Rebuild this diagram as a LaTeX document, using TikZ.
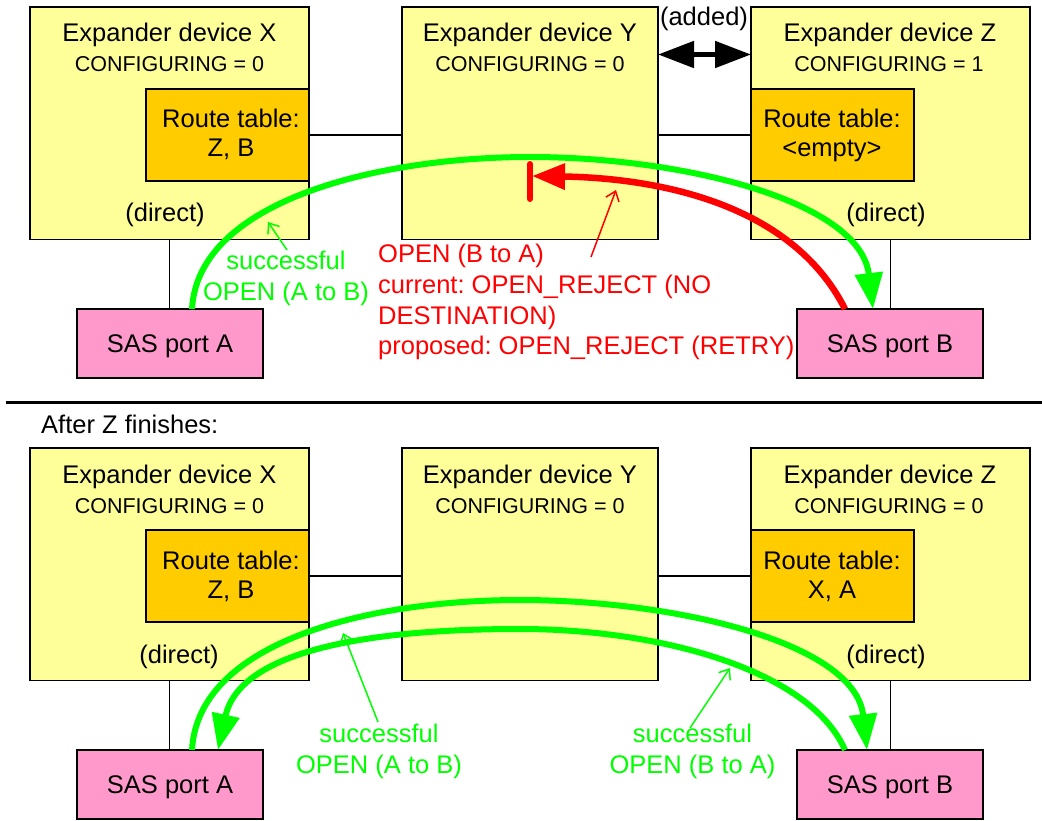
\documentclass[tikz,border=0pt]{standalone}
\usepackage{fontspec}
\setmainfont{Liberation Sans}
\usetikzlibrary{arrows.meta,calc}
\definecolor{boxyellow}{HTML}{FFFF99}
\definecolor{rtorange}{HTML}{FFCC00}
\definecolor{portpink}{HTML}{FF99CC}
\definecolor{brightgreen}{HTML}{00FF00}
\definecolor{brightred}{HTML}{FF0000}
\frenchspacing
\begin{document}
\begin{tikzpicture}[x=1pt,y=-1pt,
  expbox/.style={draw=black, line width=1.6pt, fill=boxyellow, minimum width=279pt, minimum height=232.5pt, inner sep=0pt, outer sep=0pt},
  ybox/.style={expbox, minimum width=256pt},
  rtbox/.style={draw=black, line width=1.6pt, fill=rtorange, minimum width=163pt, minimum height=92pt, inner sep=0pt, outer sep=0pt},
  port/.style={draw=black, line width=1.6pt, fill=portpink, minimum width=186pt, minimum height=69pt, inner sep=0pt, outer sep=0pt, font=\fontsize{25.5}{30}\selectfont, text height=18.4pt, text depth=0pt},
  txt/.style={inner sep=0pt, font=\fontsize{25.5}{30}\selectfont, anchor=base},
  cfg/.style={txt, font=\fontsize{21.5}{26}\selectfont},
  conn/.style={draw=black, line width=1.4pt},
  bigarrow/.style={line width=6pt, brightgreen, -{Triangle[length=36pt,width=27pt]}},
  thinarrow/.style={line width=1.5pt, -{Straight Barb[length=9pt,width=14pt]}},
]
\useasboundingbox (0,0) rectangle (1042,821);

% ---------------- top section ----------------
\node[expbox] (X) at (169.5,123.25) {};
\node[ybox] (Y) at (530,123.25) {};
\node[expbox] (Z) at (890.5,123.25) {};
\node[rtbox] (RTX) at (227.5,135) {};
\node[rtbox] (RTZ) at (832.5,135) {};
\node[port] (pA) at (170,343.5) {SAS port A};
\node[port] (pB) at (890,343.5) {SAS port B};

\node[txt] (tX) at (169.5,42) {Expander device X};
\node[cfg] (cX) at (169.5,72) {CONFIGURING = 0};
\node[txt] (tY) at (530,42) {Expander device Y};
\node[cfg] (cY) at (530,72) {CONFIGURING = 0};
\node[txt] (tZ) at (890,42) {Expander device Z};
\node[cfg] (cZ) at (889,72) {CONFIGURING = 1};
\node[txt] (rX1) at (231,128) {Route table:};
\node[txt] (rX2) at (231,157) {Z, B};
\node[txt] (rZ1) at (832,128) {Route table:};
\node[txt] (rZ2) at (832,157) {<empty>};
\node[txt] (dX) at (165,222) {(direct)};
\node[txt] (dZ) at (886,222) {(direct)};
\node[txt] (added) at (704,26) {(added)};

\draw[conn] (RTX.east) -- (RTX.east -| Y.west);
\draw[conn] (Y.east |- RTZ.west) -- (RTZ.west);
\draw[conn] (X.south) -- (X.south |- pA.north);
\draw[conn] (Z.south) -- (Z.south |- pB.north);

\coordinate (addy) at (704,54.5);
\draw[line width=5pt, {Triangle[length=36pt,width=26pt]}-{Triangle[length=36pt,width=26pt]}] (Y.east |- addy) -- (Z.west |- addy);

% green successful OPEN A to B
\coordinate (gA) at ($(pA.north)+(22,0)$);
\coordinate (gB) at ($(pB.north)+(-17,0)$);
\draw[bigarrow] (gA) .. controls (198,200) and (380,157) .. (530,157)
  .. controls (680,157) and (860,200) .. (gB);

% red rejected OPEN B to A
\coordinate (rB) at ($(pB.north)+(-45,0)$);
\coordinate (rEnd) at (532,176);
\draw[line width=6.5pt, brightred, -{Triangle[length=33pt,width=25pt]}] (rB) .. controls (790,200) and (650,178) .. (rEnd);
\coordinate (barT) at (530,164);
\coordinate (barB) at (530,199);
\draw[line width=6pt, brightred, line cap=round] (barT) -- (barB);

\node[txt, text=brightred, anchor=base west] (red1) at (378,263) {OPEN (B to A)};
\node[txt, text=brightred, anchor=base west] (red2) at (378,294) {current: OPEN\_REJECT (NO};
\node[txt, text=brightred, anchor=base west] (red3) at (378,324) {DESTINATION)};
\node[txt, text=brightred, anchor=base west] (red4) at (378,354) {proposed: OPEN\_REJECT (RETRY)};
\coordinate (redS) at (591,257);
\coordinate (redT) at (616,190);
\draw[thinarrow, brightred] (redS) -- (redT);

\node[txt, text=brightgreen] (g1) at (286,270) {successful};
\node[txt, text=brightgreen] (g2) at (286,301) {OPEN (A to B)};
\coordinate (gS) at (287,250);
\coordinate (gT) at (268,222);
\draw[thinarrow, brightgreen] (gS) -- (gT);

% ---------------- separator ----------------
\coordinate (sepL) at (6,402);
\coordinate (sepR) at (1042,402);
\draw[line width=3pt] (sepL) -- (sepR);
\node[txt, anchor=base west] (after) at (41,433) {After Z finishes:};

% ---------------- bottom section ----------------
\node[expbox] (X2) at (169.5,564.25) {};
\node[ybox] (Y2) at (530,564.25) {};
\node[expbox] (Z2) at (890.5,564.25) {};
\node[rtbox] (RTX2) at (227.5,576) {};
\node[rtbox] (RTZ2) at (832.5,576) {};
\node[port] (pA2) at (170,784.5) {SAS port A};
\node[port] (pB2) at (890,784.5) {SAS port B};

\node[txt] (tX2) at (169.5,483) {Expander device X};
\node[cfg] (cX2) at (169.5,513) {CONFIGURING = 0};
\node[txt] (tY2) at (530,483) {Expander device Y};
\node[cfg] (cY2) at (530,513) {CONFIGURING = 0};
\node[txt] (tZ2) at (890,483) {Expander device Z};
\node[cfg] (cZ2) at (889,513) {CONFIGURING = 0};
\node[txt] (rX21) at (231,569) {Route table:};
\node[txt] (rX22) at (231,598) {Z, B};
\node[txt] (rZ21) at (832,569) {Route table:};
\node[txt] (rZ22) at (832,598) {X, A};
\node[txt] (dX2) at (179,663) {(direct)};
\node[txt] (dZ2) at (886,663) {(direct)};

\draw[conn] (RTX2.east) -- (RTX2.east -| Y2.west);
\draw[conn] (Y2.east |- RTZ2.west) -- (RTZ2.west);
\draw[conn] (X2.south) -- (X2.south |- pA2.north);
\draw[conn] (Z2.south) -- (Z2.south |- pB2.north);

% A to B
\coordinate (gA2) at ($(pA2.north)+(22,0)$);
\coordinate (gB2) at ($(pB2.north)+(-23,0)$);
\draw[bigarrow] (gA2) .. controls (198,641) and (370,600) .. (520,600)
  .. controls (670,600) and (855,641) .. (gB2);
% B to A
\coordinate (hB2) at ($(pB2.north)+(-45,0)$);
\coordinate (hA2) at ($(pA2.north)+(48,0)$);
\draw[bigarrow] (hB2) .. controls (810,670) and (660,629) .. (520,629)
  .. controls (370,629) and (240,650) .. (hA2);

\node[txt, text=brightgreen] (g21) at (379,742) {successful};
\node[txt, text=brightgreen] (g22) at (379,773) {OPEN (A to B)};
\coordinate (g2S) at (378,722);
\coordinate (g2T) at (343,633);
\draw[thinarrow, brightgreen] (g2S) -- (g2T);

\node[txt, text=brightgreen] (g31) at (692.5,742) {successful};
\node[txt, text=brightgreen] (g32) at (692.5,773) {OPEN (B to A)};
\coordinate (g3S) at (690,728);
\coordinate (g3T) at (730,668);
\draw[thinarrow, brightgreen] (g3S) -- (g3T);
\end{tikzpicture}
\end{document}
